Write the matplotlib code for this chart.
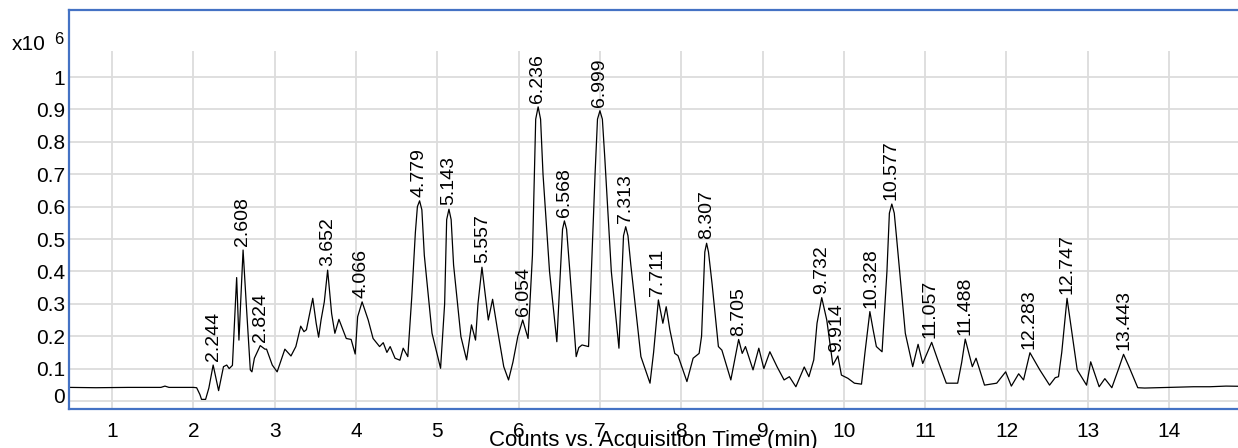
import matplotlib.pyplot as plt
from matplotlib.transforms import ScaledTranslation

plt.rcParams['font.family'] = ['Liberation Sans', 'DejaVu Sans']

# trace (time in min, counts in 1e6)
time = [0.47, 0.8, 1.2, 1.6, 1.65, 1.7, 2.0, 2.04, 2.08, 2.10, 2.15, 2.19, 2.243, 2.31, 2.37, 2.41, 2.44, 2.48,
        2.532, 2.56, 2.611, 2.65, 2.70, 2.72, 2.75, 2.822, 2.88, 2.90, 2.97, 3.03, 3.125, 3.20, 3.26, 3.32, 3.36,
        3.39, 3.468, 3.51, 3.54, 3.57, 3.61, 3.651, 3.70, 3.74, 3.79, 3.88, 3.94, 3.99, 4.02, 4.075, 4.15, 4.21,
        4.29, 4.335, 4.38, 4.42, 4.48, 4.54, 4.58, 4.637, 4.686, 4.73, 4.755, 4.782, 4.81, 4.84, 4.935, 5.04,
        5.09, 5.115, 5.143, 5.17, 5.20, 5.29, 5.36, 5.42, 5.47, 5.50, 5.549, 5.627, 5.68, 5.74, 5.817, 5.876,
        5.93, 5.99, 6.05, 6.116, 6.17, 6.21, 6.24, 6.27, 6.30, 6.38, 6.47, 6.54, 6.563, 6.59, 6.63, 6.708, 6.74,
        6.78, 6.86, 6.88, 6.94, 6.97, 7.0, 7.03, 7.06, 7.14, 7.234, 7.29, 7.317, 7.345, 7.38, 7.504, 7.616, 7.66,
        7.719, 7.774, 7.815, 7.86, 7.92, 7.96, 8.07, 8.146, 8.22, 8.25, 8.29, 8.312, 8.335, 8.38, 8.457, 8.50,
        8.61, 8.706, 8.75, 8.79, 8.883, 8.954, 9.016, 9.09, 9.18, 9.265, 9.33, 9.41, 9.513, 9.57, 9.63, 9.67,
        9.728, 9.79, 9.865, 9.927, 9.97, 10.05, 10.13, 10.217, 10.26, 10.32, 10.36, 10.40, 10.47, 10.53, 10.56,
        10.59, 10.62, 10.65, 10.756, 10.847, 10.913, 10.97, 11.08, 11.17, 11.26, 11.40, 11.45, 11.493, 11.58,
        11.626, 11.73, 11.88, 11.99, 12.06, 12.15, 12.21, 12.289, 12.41, 12.53, 12.60, 12.64, 12.68, 12.745,
        12.80, 12.87, 12.985, 13.036, 13.14, 13.21, 13.296, 13.38, 13.44, 13.50, 13.615, 13.7, 14.0, 14.3, 14.5,
        14.7, 15.0]
counts = [0.042, 0.041, 0.042, 0.042, 0.046, 0.042, 0.042, 0.041, 0.02, 0.005, 0.005, 0.04, 0.111, 0.032, 0.106,
          0.111, 0.100, 0.11, 0.381, 0.188, 0.466, 0.30, 0.096, 0.09, 0.132, 0.171, 0.16, 0.16, 0.111, 0.09, 0.16,
          0.139, 0.168, 0.231, 0.214, 0.22, 0.317, 0.24, 0.197, 0.25, 0.306, 0.404, 0.27, 0.209, 0.252, 0.193, 0.19,
          0.145, 0.26, 0.306, 0.25, 0.193, 0.168, 0.18, 0.15, 0.168, 0.132, 0.126, 0.163, 0.137, 0.322, 0.52,
          0.60, 0.618, 0.59, 0.45, 0.209, 0.101, 0.30, 0.56, 0.592, 0.56, 0.42, 0.199, 0.127, 0.235, 0.188, 0.30,
          0.413, 0.25, 0.314, 0.22, 0.106, 0.065, 0.12, 0.199, 0.25, 0.193, 0.45, 0.87, 0.908, 0.87, 0.70, 0.40,
          0.183, 0.53, 0.556, 0.53, 0.40, 0.137, 0.165, 0.173, 0.168, 0.30, 0.70, 0.87, 0.896, 0.87, 0.75, 0.40,
          0.163, 0.51, 0.538, 0.51, 0.42, 0.137, 0.055, 0.15, 0.312, 0.24, 0.291, 0.22, 0.147, 0.14, 0.06, 0.132,
          0.147, 0.20, 0.46, 0.487, 0.46, 0.36, 0.168, 0.157, 0.065, 0.19, 0.147, 0.168, 0.096, 0.163, 0.1, 0.152,
          0.105, 0.065, 0.075, 0.044, 0.105, 0.075, 0.127, 0.24, 0.319, 0.25, 0.111, 0.139, 0.08, 0.07, 0.055,
          0.052, 0.15, 0.276, 0.22, 0.168, 0.152, 0.40, 0.58, 0.608, 0.58, 0.50, 0.209, 0.106, 0.175, 0.116,
          0.181, 0.116, 0.055, 0.055, 0.12, 0.191, 0.106, 0.132, 0.049, 0.055, 0.09, 0.046, 0.084, 0.065, 0.149,
          0.096, 0.049, 0.072, 0.075, 0.15, 0.317, 0.22, 0.096, 0.049, 0.121, 0.044, 0.069, 0.041, 0.10, 0.144,
          0.11, 0.041, 0.040, 0.042, 0.044, 0.044, 0.046, 0.045]

peak_rt = [2.244, 2.608, 2.824, 3.652, 4.066, 4.779, 5.143, 5.557, 6.054, 6.236, 6.568, 6.999, 7.313, 7.711,
           8.307, 8.705, 9.732, 9.914, 10.328, 10.577, 11.057, 11.488, 12.283, 12.747, 13.443]
peak_top = [0.111, 0.466, 0.171, 0.404, 0.306, 0.618, 0.592, 0.413, 0.25, 0.908, 0.556, 0.896, 0.538, 0.312,
            0.487, 0.19, 0.319, 0.139, 0.276, 0.608, 0.181, 0.191, 0.149, 0.317, 0.144]

blue = '#4472c4'

fig = plt.figure(figsize=(12.38, 4.48), dpi=100)
ax = fig.add_axes([69 / 1238, 39 / 448, 1 - 69 / 1238 + 0.01, 399 / 448])
ax.set_xlim(0.47, 15.0)
ax.set_ylim(-0.0247, 1.207)

# grid
for g in range(11):
    ax.axhline(g / 10, color='#dcdcdc', lw=1.3, zorder=0)
for g in range(1, 15):
    ax.vlines(g, -0.0247, 1.08, color='#dcdcdc', lw=1.3, zorder=0)

ax.plot(time, counts, color='black', lw=0.9)

for rt, top in zip(peak_rt, peak_top):
    ax.text(rt, top + 0.012, f'{rt:.3f}', rotation=90, ha='center', va='bottom', fontsize=14)

ax.set_xticks(range(1, 15))
ax.set_yticks([i / 10 for i in range(11)])
ax.set_yticklabels(['0'] + [f'{i / 10:g}' for i in range(1, 10)] + ['1'])
ax.tick_params(axis='x', length=0, pad=9, labelsize=15)
ax.tick_params(axis='y', length=0, pad=3, labelsize=15)
zero = ax.get_yticklabels()[0]
zero.set_transform(zero.get_transform() + ScaledTranslation(0, 5 / 100, fig.dpi_scale_trans))

for side in ['left', 'top', 'bottom']:
    ax.spines[side].set_color(blue)
    ax.spines[side].set_linewidth(1.6)
ax.spines['right'].set_visible(False)

fig.text(12 / 1238, 1 - 45 / 448, 'x10', fontsize=15, va='center', ha='left')
fig.text(54 / 1238, 1 - 40 / 448, '6', fontsize=12, va='center', ha='left')
fig.text(653 / 1238, 2 / 448, 'Counts vs. Acquisition Time (min)', fontsize=16, ha='center', va='baseline')

fig.savefig('out.png', dpi=100)
